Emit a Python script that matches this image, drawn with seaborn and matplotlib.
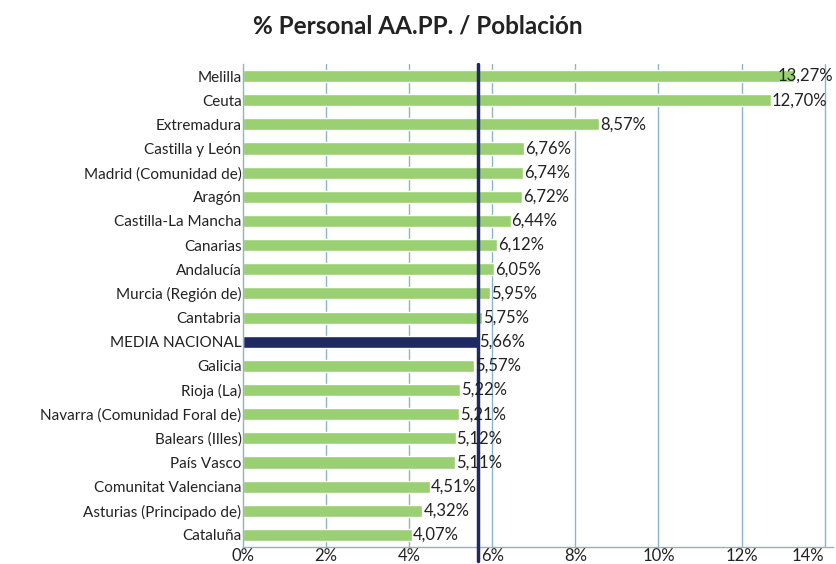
import matplotlib
matplotlib.use("Agg")
import matplotlib.pyplot as plt
import matplotlib.transforms as mtransforms
import seaborn as sns
import pandas as pd

categories = ["Melilla", "Ceuta", "Extremadura", "Castilla y León", "Madrid (Comunidad de)",
              "Aragón", "Castilla-La Mancha", "Canarias", "Andalucía", "Murcia (Región de)",
              "Cantabria", "MEDIA NACIONAL", "Galicia", "Rioja (La)",
              "Navarra (Comunidad Foral de)", "Balears (Illes)", "País Vasco",
              "Comunitat Valenciana", "Asturias (Principado de)", "Cataluña"]
values = [13.27, 12.70, 8.57, 6.76, 6.74, 6.72, 6.44, 6.12, 6.05, 5.95, 5.75, 5.66,
          5.57, 5.22, 5.21, 5.12, 5.11, 4.51, 4.32, 4.07]
media = 5.66
xticks = [0, 2, 4, 6, 8, 10, 12, 14]

GREEN = "#9ACF72"
NAVY = "#1F2A5E"
GRID = "#8DB3CA"
TXT = "#222222"

sns.set_theme(style="white")
plt.rcParams['font.family'] = ['Lato', 'DejaVu Sans']

df = pd.DataFrame({"cat": categories, "val": values})
palette = {c: (NAVY if c == "MEDIA NACIONAL" else GREEN) for c in categories}

fig = plt.figure(figsize=(8.36, 5.64), dpi=100)
ax = fig.add_axes([243/836, 1-547/564, 590/836, (547-64)/564])

sns.barplot(data=df, y="cat", x="val", hue="cat", palette=palette, orient="h",
            width=0.5, legend=False, ax=ax, zorder=2, saturation=1)

ax.set_xlim(0, 14.2)
ax.set_ylim(len(categories) - 0.5, -0.5)
ax.set_xticks(xticks)
labs = ax.set_xticklabels([f"{t}%" for t in xticks], fontsize=12, color=TXT)
labs[-1].set_horizontalalignment("right")
ax.tick_params(axis="x", length=0, pad=1)
ax.tick_params(axis="y", length=0, pad=1, labelsize=11, labelcolor=TXT)
ax.set_xlabel("")
ax.set_ylabel("")
for x in xticks[1:]:
    ax.axvline(x, color=GRID, lw=1, zorder=1)
for s in ["top", "right"]:
    ax.spines[s].set_visible(False)
ax.spines["left"].set_color(GRID)
ax.spines["bottom"].set_color(GRID)
ax.spines["left"].set_linewidth(1)
ax.spines["bottom"].set_linewidth(1)

trans = mtransforms.blended_transform_factory(ax.transData, ax.transAxes)
ax.plot([media, media], [-0.03, 1.0], color=NAVY, lw=2.5, transform=trans,
        clip_on=False, zorder=3)

for i, v in enumerate(values):
    txt = f"{v:.2f}%".replace(".", ",")
    if i == 0:
        ax.text(1.0, i, txt, va="center", ha="right", fontsize=12, color=TXT,
                zorder=4, transform=mtransforms.blended_transform_factory(ax.transAxes, ax.transData))
    else:
        ax.text(v + 0.02, i, txt, va="center", ha="left", fontsize=12, color=TXT, zorder=4)

fig.text(0.5, 1-26/564, "% Personal AA.PP. / Población", ha="center", va="center",
         fontsize=17.5, fontweight="bold", color=TXT)

fig.savefig("out.png", dpi=100)
